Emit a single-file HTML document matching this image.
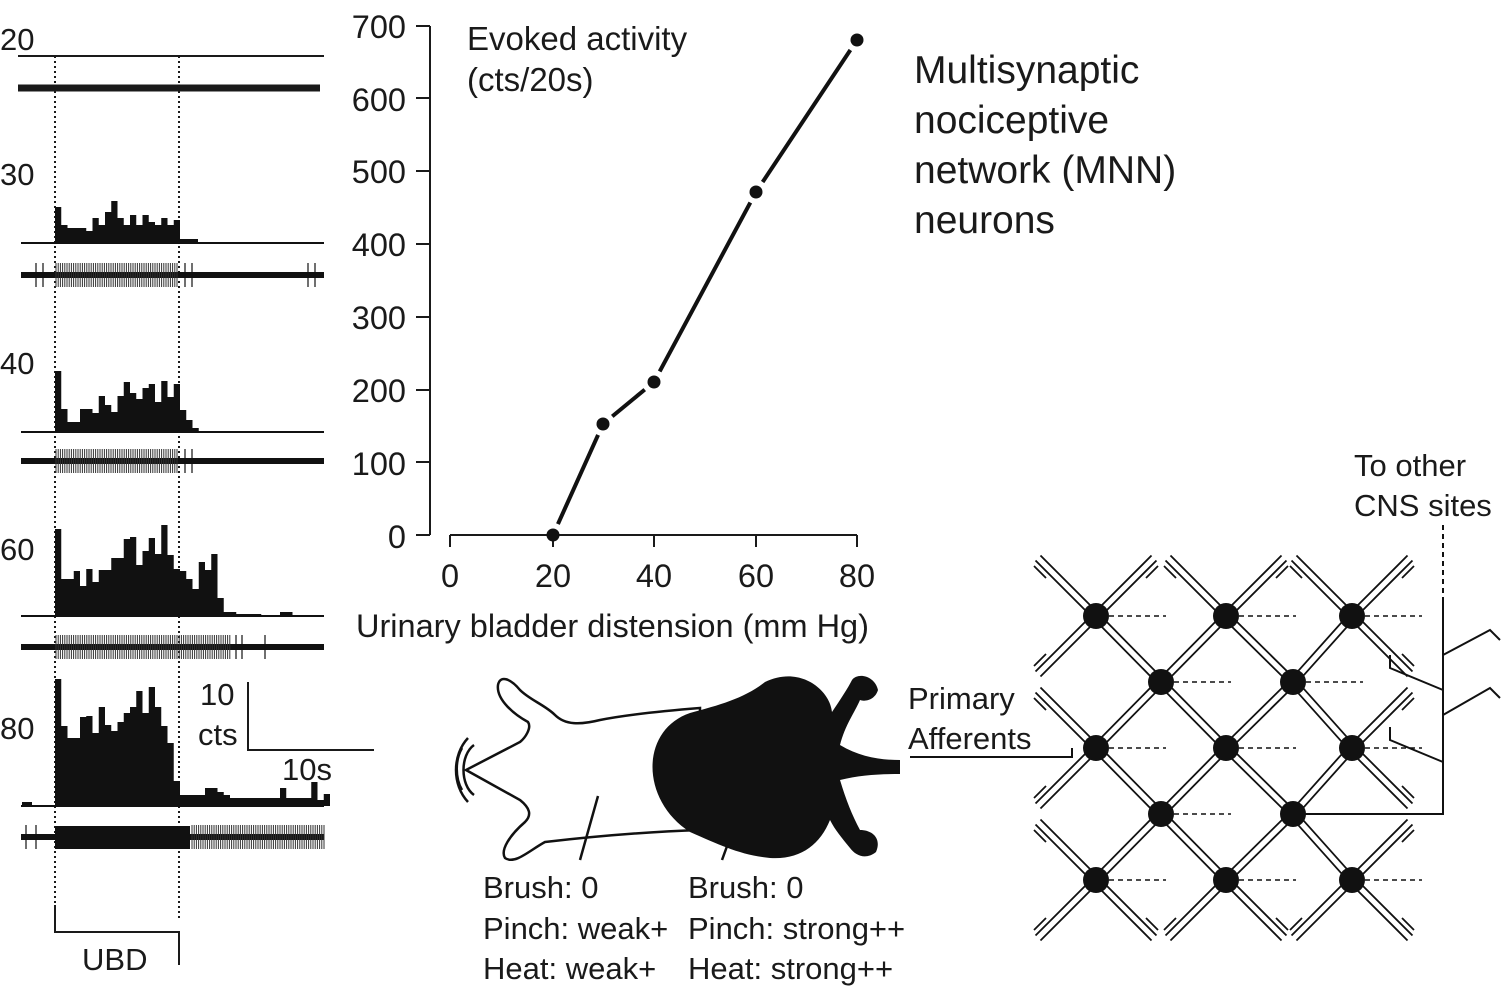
<!DOCTYPE html>
<html><head><meta charset="utf-8"><style>
html,body{margin:0;padding:0;background:#fff;width:1501px;height:987px;overflow:hidden}
svg{display:block;font-family:"Liberation Sans",Arial,sans-serif;fill:#1a1a1a}
</style></head><body>
<svg id="s" width="1501" height="987" viewBox="0 0 1501 987" xmlns="http://www.w3.org/2000/svg">
<g font-size="31" fill="#1a1a1a">
<text x="0" y="50">20</text>
<text x="0" y="185">30</text>
<text x="0" y="374">40</text>
<text x="0" y="560">60</text>
<text x="0" y="739">80</text>
<text x="200" y="705">10</text>
<text x="198" y="745">cts</text>
<text x="282" y="780">10s</text>
<text x="82" y="970">UBD</text>
</g>
<g stroke="#1a1a1a" fill="none">
<line x1="18" y1="56" x2="324" y2="56" stroke-width="2"/>
<line x1="18" y1="88" x2="320" y2="88" stroke-width="7"/>
<line x1="55" y1="56" x2="55" y2="918" stroke-width="2" stroke-dasharray="2,3"/>
<line x1="179" y1="56" x2="179" y2="918" stroke-width="2" stroke-dasharray="2,3"/>
<polyline points="248,682 248,750 374,750" stroke-width="2"/>
<polyline points="55,905 55,932 179,932 179,965" stroke-width="2"/>
</g>
<g id="hist"></g>
<g stroke="#1a1a1a" fill="none" stroke-width="2">
<line x1="430" y1="26" x2="430" y2="535"/>
<line x1="450" y1="535" x2="857" y2="535"/>
</g>
<g id="axes" stroke="#1a1a1a" stroke-width="2"></g>
<g font-size="32.5" text-anchor="end">
<text x="406" y="38">700</text><text x="406" y="111">600</text><text x="406" y="183">500</text>
<text x="406" y="256">400</text><text x="406" y="329">300</text><text x="406" y="402">200</text>
<text x="406" y="475">100</text><text x="406" y="548">0</text>
</g>
<g font-size="32.5" text-anchor="middle">
<text x="450" y="587">0</text><text x="553" y="587">20</text><text x="654" y="587">40</text>
<text x="756" y="587">60</text><text x="857" y="587">80</text>
</g>
<text x="356" y="637" font-size="32.5">Urinary bladder distension (mm Hg)</text>
<text x="467" y="50" font-size="33">Evoked activity</text>
<text x="467" y="91" font-size="33">(cts/20s)</text>
<g font-size="39"><text x="914" y="83">Multisynaptic</text><text x="914" y="133">nociceptive</text><text x="914" y="183">network (MNN)</text><text x="914" y="233">neurons</text></g>
<g font-size="31"><text x="1354" y="476">To other</text><text x="1354" y="516">CNS sites</text>
<text x="908" y="709">Primary</text><text x="908" y="749">Afferents</text>
<text x="483" y="898">Brush: 0</text><text x="483" y="939">Pinch: weak+</text><text x="483" y="979">Heat: weak+</text>
<text x="688" y="898">Brush: 0</text><text x="688" y="939">Pinch: strong++</text><text x="688" y="979">Heat: strong++</text></g>
<g id="plot"></g>
<g stroke="#111" stroke-width="2.5" fill="none">
<path d="M700,708 C650,712 620,716 600,720 C580,725 565,725 555,715 C545,705 530,700 520,690 C510,678 500,675 498,685 C496,700 515,715 528,722 C532,728 525,738 520,742 L466,770 L520,800 C530,808 532,815 525,822 C510,835 500,850 505,858 C515,865 530,850 545,842 C580,838 640,832 700,830 Z" fill="#fff"/>
<path d="M474,745 C460,755 460,785 474,795 M468,738 C452,755 452,785 468,802 M462,748 C455,760 455,778 462,790"/>
<line x1="598" y1="796" x2="580" y2="860"/><line x1="730" y1="838" x2="722" y2="860"/>
</g>
<g fill="#111">
<path d="M690,713 C720,705 745,698 765,682 C800,665 830,690 832,712 C840,700 848,688 852,680 C858,672 875,676 878,690 C875,700 865,702 860,700 C855,712 845,725 840,745 C860,757 880,760 900,760 L900,774 C880,774 860,775 840,780 C846,800 852,815 860,830 C872,830 882,838 876,852 C866,860 856,856 850,848 C842,838 835,830 830,820 C820,845 800,860 770,858 C740,855 720,845 690,832 C640,800 640,730 690,713 Z"/>
</g>
<g stroke="#111" stroke-width="2" fill="none">
<polyline points="910,757 1072,757 1072,748"/>
<line x1="1443" y1="525" x2="1443" y2="600" stroke-dasharray="5,4"/>
<polyline points="1443,600 1443,814 1300,814"/>
<polyline points="1443,655 1490,630 1500,640"/>
<polyline points="1443,690 1390,668 1390,655"/>
<polyline points="1443,715 1490,688 1500,698"/>
<polyline points="1443,762 1390,740 1390,727"/>
</g>
<g id="net"></g>
</svg>
<script>
var NS="http://www.w3.org/2000/svg";
function el(p,t,a){var e=document.createElementNS(NS,t);for(var k in a)e.setAttribute(k,a[k]);p.appendChild(e);return e;}
var H=document.getElementById('hist');
function hist(base,arr,x0,w){var d="M"+x0+","+base;var x=x0;arr.forEach(function(y){d+=" L"+x+","+y+" L"+(x+w)+","+y;x+=w;});d+=" L"+x+","+base+" Z";el(H,'path',{d:d,fill:'#111'});el(H,'line',{x1:21,y1:base,x2:324,y2:base,stroke:'#111','stroke-width':2});}
var w=6.25;
hist(243,[207,225,228,228,228,231,218,225,212,201,218,225,215,225,215,222,225,218,225,220],55,w);
el(H,'rect',{x:180,y:239,width:18,height:4,fill:'#111'});
hist(432,[371,409,422,422,409,409,413,396,405,412,396,382,393,399,388,384,402,381,397,384,410,420,428],55,w);
hist(616,[529,579,579,571,586,569,582,570,570,558,558,539,537,565,551,538,554,525,555,569,571,579,589,562,570,554,598,612,612,614,614,614,614,616,616,616,612,612],55,w);
hist(806,[679,726,738,738,717,716,733,707,725,731,722,713,707,691,713,687,707,726,743,781,795,795,795,795,788,788,792,795,798,798,798,798,798,798,798,798,788,798,798,798,798,782,800,794],55,w);
el(H,'rect',{x:22,y:802,width:10,height:4,fill:'#111'});
function train(y,th,x1,x2,sp,extra){el(H,'line',{x1:21,y1:y,x2:324,y2:y,stroke:'#111','stroke-width':th});for(var x=x1;x<x2;x+=sp){el(H,'line',{x1:x,y1:y-12,x2:x,y2:y+12,stroke:'#333','stroke-width':1});}(extra||[]).forEach(function(x){el(H,'line',{x1:x,y1:y-12,x2:x,y2:y+12,stroke:'#111','stroke-width':1.2});});}
train(275,6,56,177,2.2,[36,43,185,192,308,315]);
train(461,6,56,177,2.2,[185,192]);
train(647,6,56,230,2.2,[236,242,265]);
el(H,'rect',{x:55,y:826,width:135,height:23,fill:'#111'});
train(837,6,192,324,2.2,[26,36]);
var P=document.getElementById('plot');
var A=document.getElementById('axes');
[26,98,171,244,317,390,462,535].forEach(function(y){el(A,'line',{x1:416,y1:y,x2:430,y2:y});});
[450,553,654,756,857].forEach(function(x){el(A,'line',{x1:x,y1:535,x2:x,y2:547});});
var pts=[[553,535],[603,424],[654,382],[756,192],[857,40]];
for(var i=0;i<4;i++){var a=pts[i],b=pts[i+1],dx=b[0]-a[0],dy=b[1]-a[1],L=Math.hypot(dx,dy),g=12;
el(P,'line',{x1:a[0]+dx/L*g,y1:a[1]+dy/L*g,x2:b[0]-dx/L*g,y2:b[1]-dy/L*g,stroke:'#111','stroke-width':4});}
pts.forEach(function(p){el(P,'circle',{cx:p[0],cy:p[1],r:6.5,fill:'#111'});});
var N=document.getElementById('net');
var rows=[616,682,748,814,880],cA=[1096,1226,1352],cB=[1161,1293];
var nodes=[];rows.forEach(function(y,i){(i%2?cB:cA).forEach(function(x){nodes.push([x,y]);});});
function dbl(x1,y1,x2,y2){var dx=x2-x1,dy=y2-y1,L=Math.hypot(dx,dy),px=-dy/L*3.5,py=dx/L*3.5;
[1,-1].forEach(function(s){el(N,'line',{x1:x1+px*s,y1:y1+py*s,x2:x2+px*s,y2:y2+py*s,stroke:'#111','stroke-width':1.8});});}
nodes.forEach(function(n){
 [[-1,-1],[1,-1],[-1,1],[1,1]].forEach(function(d){
  var ny=n[1]+d[1]*66;
  var tx=null;nodes.forEach(function(m){if(Math.abs(m[0]-n[0])<70&&Math.sign(m[0]-n[0])==d[0]&&m[1]==ny)tx=m;});
  if(tx){if(d[1]>0)dbl(n[0],n[1],tx[0],tx[1]);}
  else{var ex=n[0]+d[0]*58,ey=n[1]+d[1]*58;dbl(n[0],n[1],ex,ey);
   el(N,'polyline',{points:(ex-d[0]*8)+","+(ey-d[1]*20)+" "+(ex+d[0]*4)+","+(ey-d[1]*8),stroke:'#111','stroke-width':1.8,fill:'none'});}
 });
 el(N,'line',{x1:n[0]+13,y1:n[1],x2:n[0]+70,y2:n[1],stroke:'#111','stroke-width':1.5,'stroke-dasharray':'5,4'});
});
nodes.forEach(function(n){el(N,'circle',{cx:n[0],cy:n[1],r:13,fill:'#111'});});
</script>
</body></html>
